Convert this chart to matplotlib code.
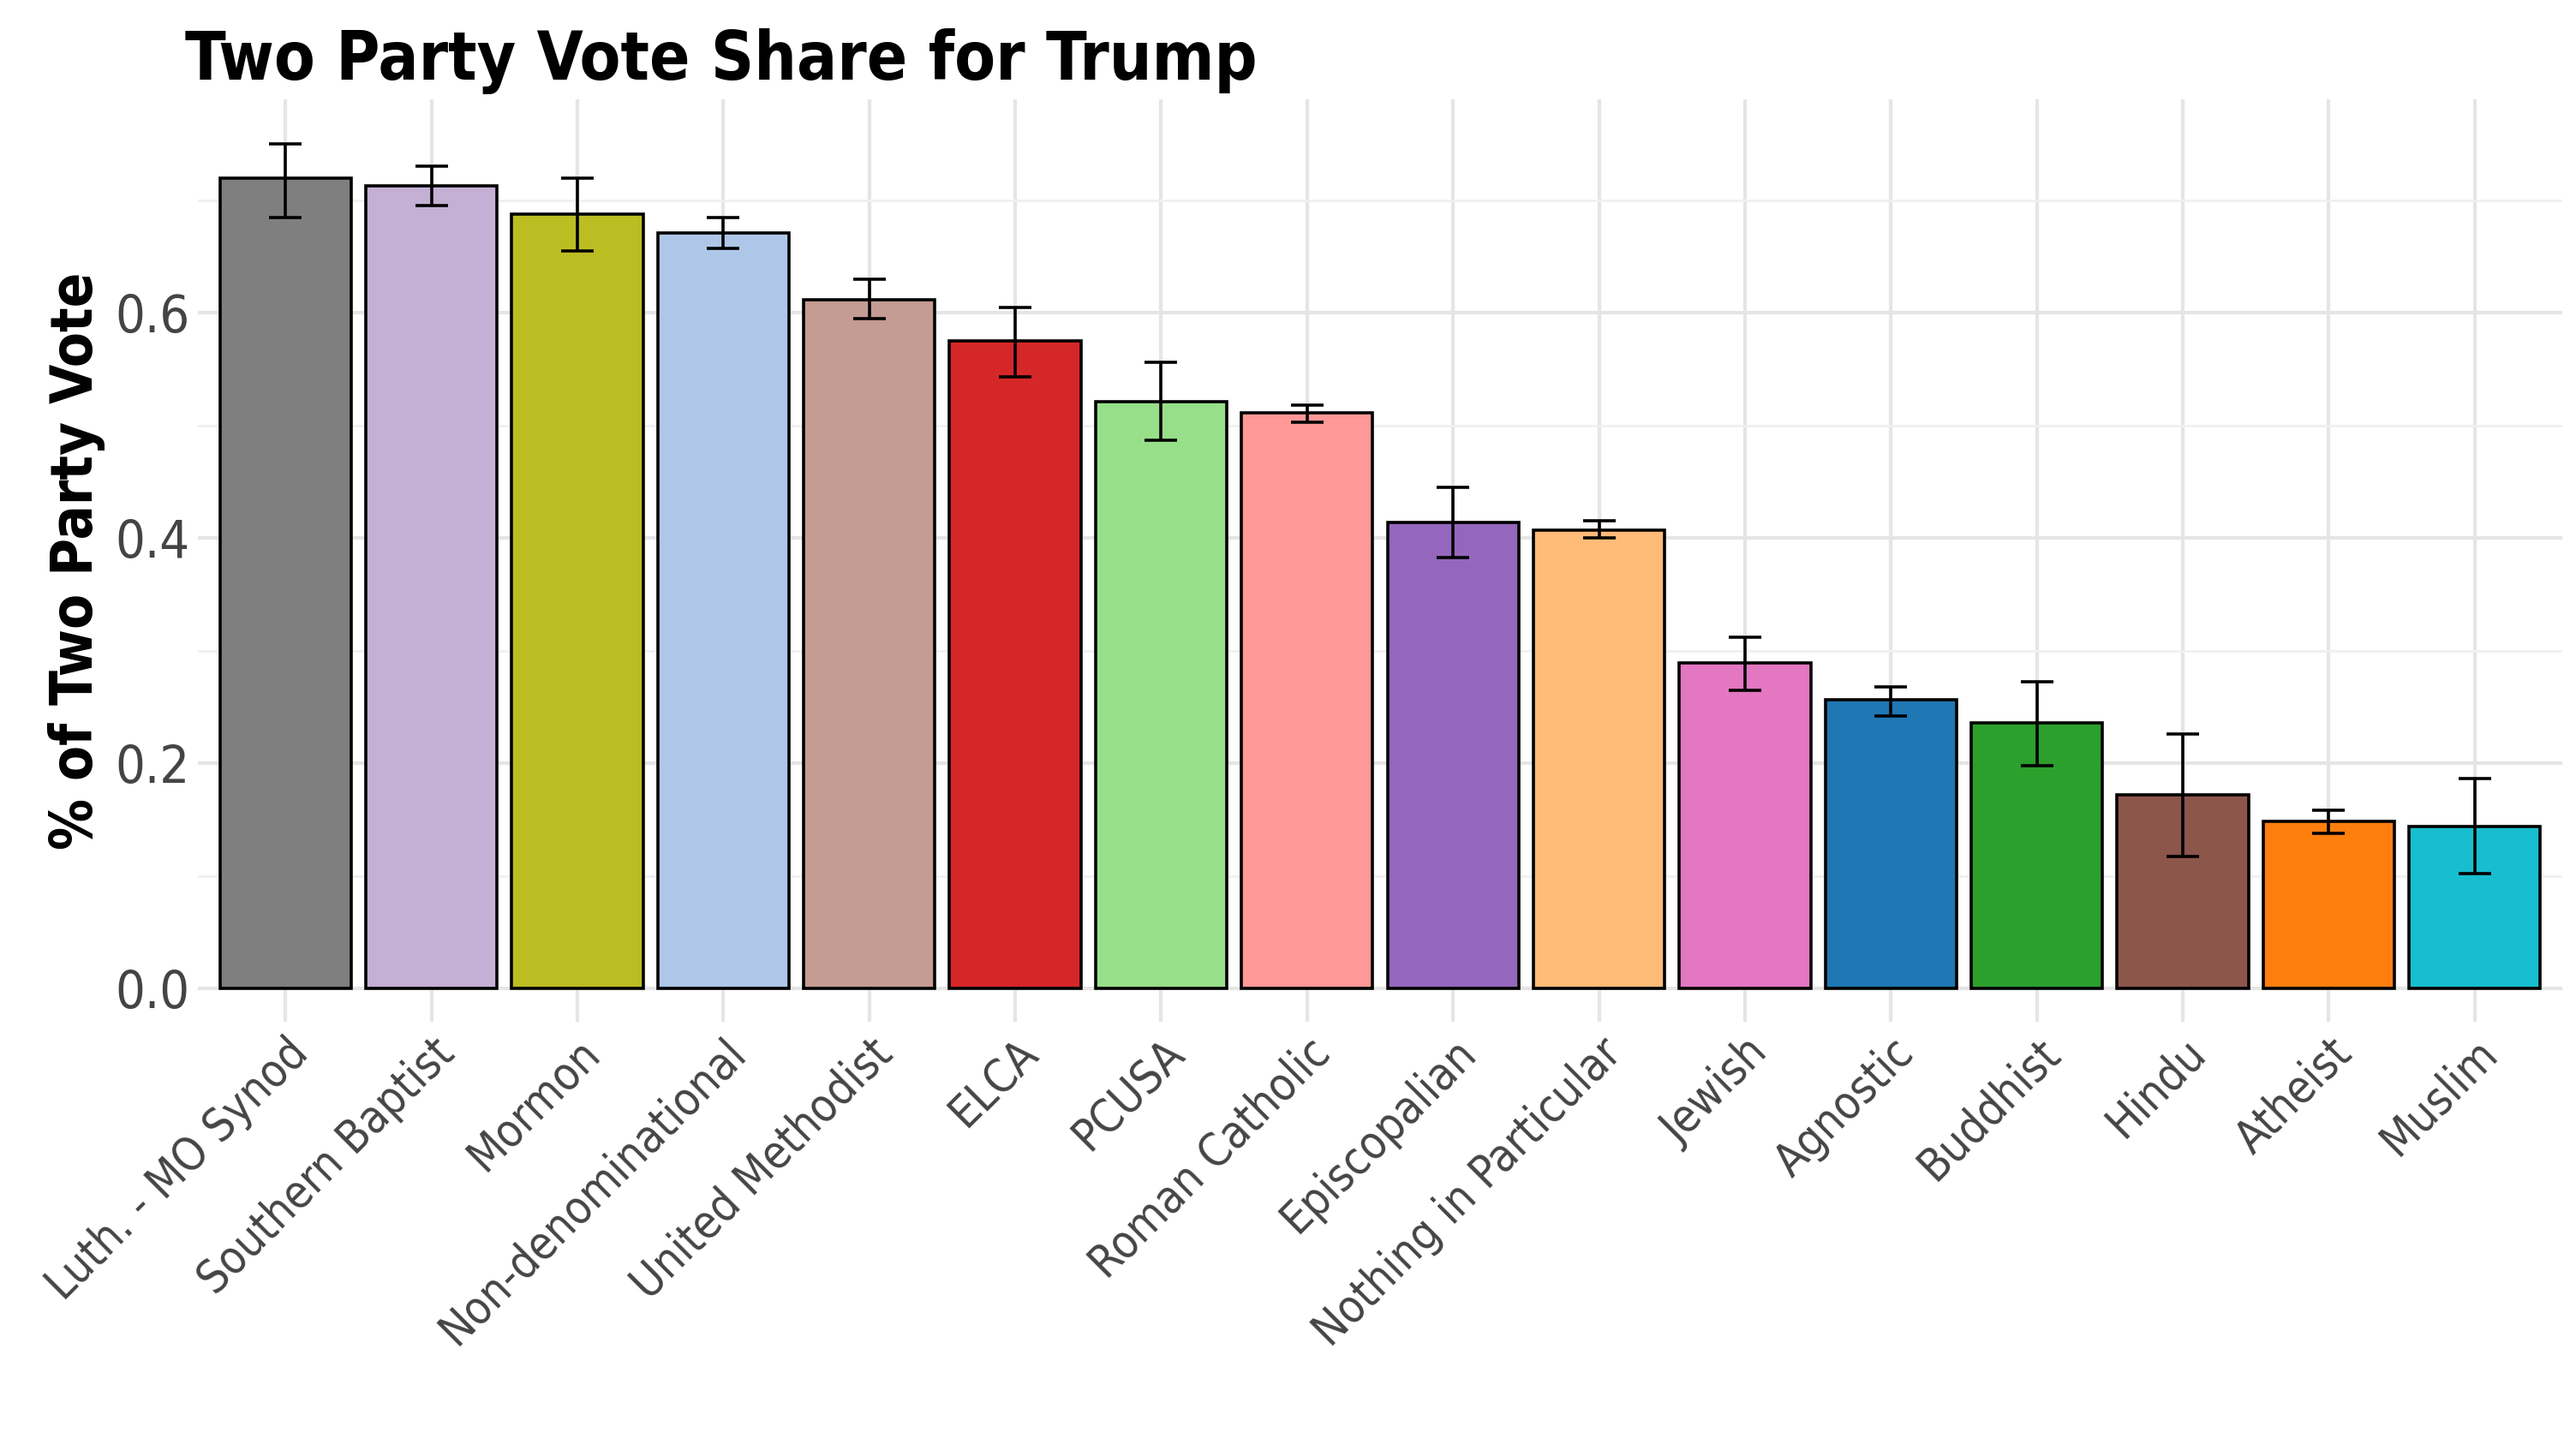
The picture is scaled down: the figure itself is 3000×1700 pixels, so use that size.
import matplotlib
matplotlib.use("Agg")
import matplotlib.pyplot as plt

cats = ["Luth. - MO Synod","Southern Baptist","Mormon","Non-denominational","United Methodist","ELCA","PCUSA","Roman Catholic","Episcopalian","Nothing in Particular","Jewish","Agnostic","Buddhist","Hindu","Atheist","Muslim"]
vals = [0.720,0.713,0.688,0.671,0.612,0.575,0.521,0.511,0.414,0.407,0.289,0.256,0.236,0.172,0.148,0.144]
lo = [0.685,0.695,0.655,0.657,0.595,0.543,0.487,0.503,0.383,0.400,0.265,0.242,0.198,0.117,0.138,0.102]
hi = [0.750,0.730,0.720,0.685,0.630,0.605,0.556,0.518,0.445,0.415,0.312,0.268,0.272,0.226,0.158,0.186]
colors = ["#7f7f7f","#c5b0d5","#bcbd22","#aec7e8","#c49c94","#d62728","#98df8a","#ff9896","#9467bd","#ffbb78","#e377c2","#1f77b4","#2ca02c","#8c564b","#ff7f0e","#17becf"]

plt.rcParams['font.family'] = ["DejaVu Sans"]
plt.rcParams['font.stretch'] = "condensed"

fig = plt.figure(figsize=(15, 8.5), dpi=200)
ax = fig.add_axes([0.077, 0.298, 0.92, 0.634])
x = list(range(len(cats)))
yerr = [[v - l for v, l in zip(vals, lo)], [h - v for v, h in zip(vals, hi)]]
ax.bar(x, vals, width=0.9, color=colors, edgecolor="black", linewidth=1.3, zorder=2)
ax.errorbar(x, vals, yerr=yerr, fmt="none", ecolor="black", elinewidth=1.3, capsize=7, capthick=1.3, zorder=3)
ax.set_xlim(-0.6, 15.6)
ax.set_ylim(-0.03, 0.79)
ax.set_yticks([0, 0.2, 0.4, 0.6])
ax.set_yticklabels(["0.0", "0.2", "0.4", "0.6"])
ax.set_yticks([0.1, 0.3, 0.5, 0.7], minor=True)
ax.set_xticks(x)
ax.set_xticklabels(cats, rotation=45, ha="right", rotation_mode="anchor")
ax.grid(True, which="major", color="#e5e5e5", linewidth=1.5, zorder=0)
ax.grid(True, which="minor", axis="y", color="#f0f0f0", linewidth=1.0, zorder=0)
ax.set_axisbelow(True)
for s in ax.spines.values():
    s.set_visible(False)
ax.tick_params(axis="both", which="both", length=0, labelsize=19, labelcolor="#444444")
ax.tick_params(axis="y", labelsize=22)
ax.set_ylabel("% of Two Party Vote", fontsize=24, fontweight="bold")
fig.text(0.072, 0.945, "Two Party Vote Share for Trump", fontsize=28, fontweight="bold", ha="left")
fig.savefig("out.png", dpi=200)
